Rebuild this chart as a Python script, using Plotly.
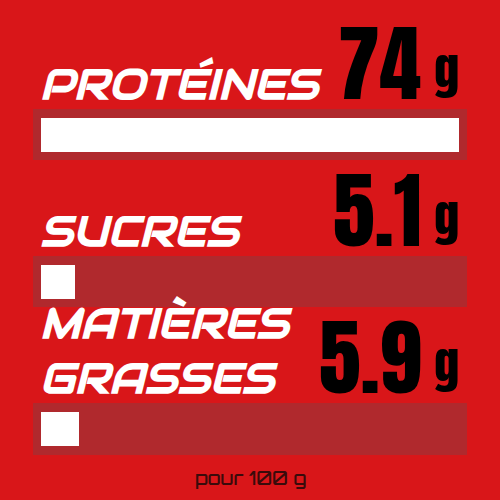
import plotly.graph_objects as go

# nutrition values, per 100 g
categories = ["PROTÉINES", "SUCRES", "MATIÈRES GRASSES"]
label_texts = ["PROTÉINES", "SUCRES", "MATIÈRES<br>GRASSES"]
values = [74, 5.1, 5.9]
unit = "g"
footnote = "pour 100 g"

BG = "#d91619"
TRACK = "#b0292d"
FILL = "#ffffff"

FILL_START = -1.0   # small stub so tiny values still show
PAD = 1.44          # track padding around the fill, in x units

full = max(values)

fig = go.Figure()

# dark track behind each bar
fig.add_trace(go.Bar(
    y=categories,
    x=[full - FILL_START + 2 * PAD] * len(categories),
    base=FILL_START - PAD,
    orientation="h",
    width=0.347,
    marker=dict(color=TRACK, line=dict(width=0)),
    hoverinfo="skip",
))

# white fill
fig.add_trace(go.Bar(
    y=categories,
    x=[v - FILL_START for v in values],
    base=FILL_START,
    orientation="h",
    width=0.231,
    marker=dict(color=FILL, line=dict(width=0)),
    hoverinfo="skip",
))

label_font = dict(family="Audiowide, Russo One, DejaVu Sans", size=42, color="white",
                  style="italic", weight="bold")
num_font = dict(family="Anton, Liberation Sans Narrow, DejaVu Sans Condensed", size=84, color="black")
unit_font = dict(family="Anton, Liberation Sans Narrow, DejaVu Sans Condensed", size=50, color="black")

annotations = []
for cat, lab, v in zip(categories, label_texts, values):
    annotations.append(dict(
        x=0.076, xref="paper", y=cat, yref="y",
        text=lab, showarrow=False, xanchor="left", yanchor="bottom",
        yshift=22, align="left", font=label_font,
    ))
    annotations.append(dict(
        x=0.846, xref="paper", y=cat, yref="y",
        text=f"{v:g}", showarrow=False, xanchor="right", yanchor="bottom",
        yshift=6, font=num_font,
    ))
    annotations.append(dict(
        x=0.864, xref="paper", y=cat, yref="y",
        text=unit, showarrow=False, xanchor="left", yanchor="bottom",
        yshift=25, font=unit_font,
    ))

annotations.append(dict(
    x=0.5, xref="paper", y=0.044, yref="paper",
    text=footnote, showarrow=False, xanchor="center", yanchor="middle",
    font=dict(family="Orbitron, Saira, DejaVu Sans", size=19, color="#3a0b0b", weight=500),
))

fig.update_layout(
    width=500, height=500,
    margin=dict(l=0, r=0, t=0, b=0),
    paper_bgcolor=BG, plot_bgcolor=BG,
    barmode="overlay",
    showlegend=False,
    bargap=0,
    annotations=annotations,
    xaxis=dict(range=[-8.36, 81.36], visible=False, fixedrange=True),
    yaxis=dict(range=[2.483, -0.918], visible=False, fixedrange=True,
               categoryorder="array", categoryarray=categories),
)

fig.write_html("out.html", config={"displayModeBar": False},
               post_script="document.body.style.margin='0';")
